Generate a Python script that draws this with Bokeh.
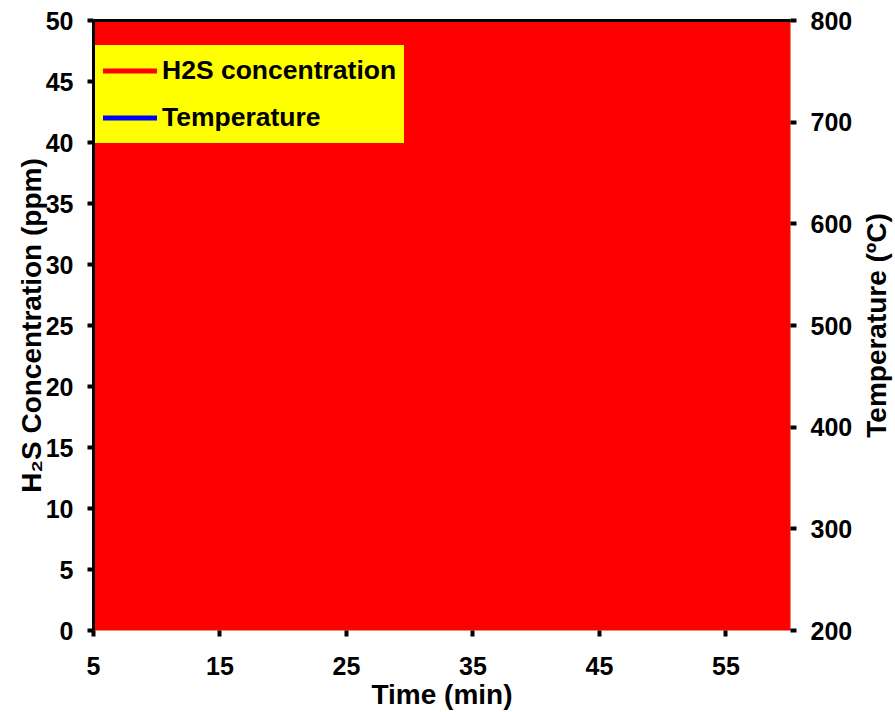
import math
from bokeh.plotting import figure
from bokeh.models import LinearAxis, Range1d, FixedTicker, Legend, LegendItem, Label
from bokeh.embed import file_html
from bokeh.resources import INLINE

# Data: no trace is visible in the reference (the plot area is fully red)
nan = float("nan")
time_min = [nan]
h2s_ppm = [nan]
temp_c = [nan]

x_ticks = [5, 15, 25, 35, 45, 55]
y_ticks = [0, 5, 10, 15, 20, 25, 30, 35, 40, 45, 50]
y2_ticks = [200, 300, 400, 500, 600, 700, 800]

FONT = "Liberation Sans"
FW, FH = 697, 610

p = figure(frame_width=FW, frame_height=FH, output_backend="svg", toolbar_location=None,
           x_range=Range1d(5, 60.1), y_range=Range1d(0, 50),
           min_border_left=93, min_border_right=103, min_border_top=20, min_border_bottom=70)
p.background_fill_color = "#ff0000"
p.border_fill_color = "white"
p.outline_line_color = None
p.grid.visible = False

p.extra_y_ranges = {"temp": Range1d(200, 800)}

r1 = p.line(time_min, h2s_ppm, line_color="red", line_width=5, line_cap="round")
r2 = p.line(time_min, temp_c, line_color="blue", line_width=5, line_cap="round",
            y_range_name="temp")

def style(ax, ticks):
    ax.ticker = FixedTicker(ticks=ticks)
    ax.minor_tick_line_color = None
    ax.major_tick_in = 0
    ax.major_tick_out = 6
    ax.major_tick_line_width = 4
    ax.major_tick_line_color = "black"
    ax.major_label_text_font = FONT
    ax.major_label_text_font_style = "bold"
    ax.major_label_text_font_size = "25px"
    ax.major_label_text_color = "black"
    ax.axis_label_text_font = FONT
    ax.axis_label_text_font_style = "bold"
    ax.axis_label_text_font_size = "28px"
    ax.axis_label_text_color = "black"

xa = p.xaxis[0]
style(xa, x_ticks)
xa.axis_label = "Time (min)"
xa.axis_line_color = None
xa.major_label_standoff = 20
xa.axis_label_standoff = 1

ya = p.yaxis[0]
style(ya, y_ticks)
ya.axis_label = "H₂S Concentration (ppm)"
ya.axis_line_color = "black"
ya.axis_line_width = 3
ya.major_label_standoff = 14
ya.axis_label_standoff = -4

ra = LinearAxis(y_range_name="temp")
style(ra, y2_ticks)
ra.axis_line_color = None
ra.major_label_standoff = 14
p.add_layout(ra, "right")

# right-hand axis title, reading bottom to top
p.add_layout(Label(x=21, y=FH / 2, x_units="screen", y_units="screen",
                   text="Temperature (ºC)", angle=math.pi / 2,
                   text_align="center", text_baseline="middle",
                   text_font=FONT, text_font_style="bold", text_font_size="28px",
                   text_color="black"), "right")

top = LinearAxis(major_label_text_font_size="0px", major_tick_line_color=None,
                 minor_tick_line_color=None, axis_line_color="black", axis_line_width=3,
                 major_label_text_color=None)
p.add_layout(top, "above")

legend = Legend(items=[LegendItem(label="H2S concentration", renderers=[r1]),
                       LegendItem(label="Temperature", renderers=[r2])],
                location=(2, 487))
legend.background_fill_color = "yellow"
legend.background_fill_alpha = 1
legend.border_line_color = "yellow"
legend.border_line_width = 1
legend.label_text_font = FONT
legend.label_text_font_style = "bold"
legend.label_text_font_size = "26.5px"
legend.label_text_color = "black"
legend.glyph_width = 54
legend.glyph_height = 35
legend.label_height = 35
legend.label_standoff = 5
legend.spacing = 12
legend.padding = 7
legend.margin = 0
p.add_layout(legend)

open("out.html", "w").write(file_html(p, INLINE))
